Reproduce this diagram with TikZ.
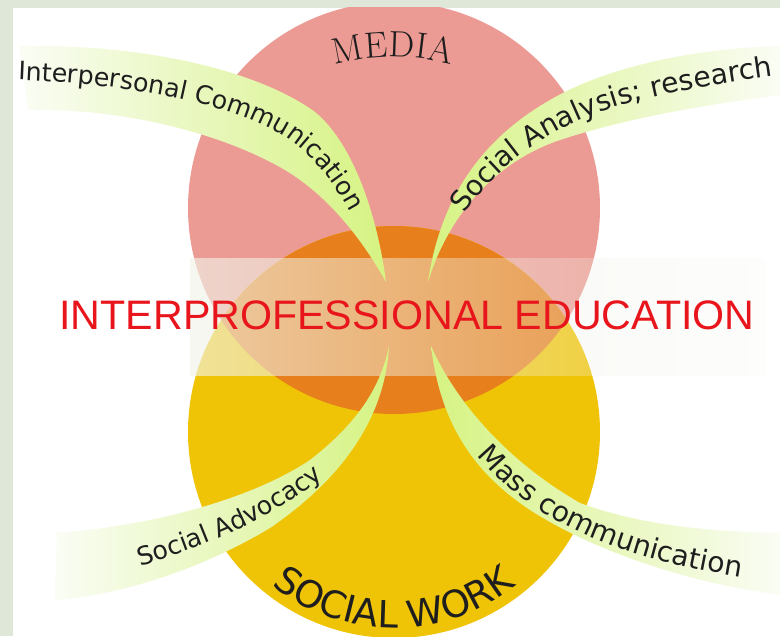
\documentclass[tikz,border=0pt]{standalone}
\usepackage{fontspec}
\newfontfamily\petalfont{DejaVu Sans}
\newfontfamily\titlefont{Liberation Sans}
\usetikzlibrary{calc,decorations.text,fadings}

\definecolor{mediapink}{RGB}{236,155,148}
\definecolor{workyellow}{RGB}{240,196,6}
\definecolor{overlaporange}{RGB}{231,127,28}
\definecolor{petallime}{RGB}{214,243,130}
\definecolor{petalmid}{RGB}{232,247,188}
\definecolor{petalpale}{RGB}{250,253,245}
\definecolor{bandgreen}{RGB}{240,243,232}
\definecolor{ipered}{RGB}{232,22,28}
\definecolor{leafgrey}{RGB}{222,231,216}
\definecolor{textdark}{RGB}{30,30,30}

\newcommand\leftpetalfont{\color{textdark}\petalfont\fontsize{18pt}{20pt}\selectfont}
\newcommand\rightpetalfont{\color{textdark}\petalfont\fontsize{20pt}{22pt}\selectfont}
\newcommand\mediafont{\color{textdark}\rmfamily\fontsize{26pt}{28pt}\selectfont}
\newcommand\workfont{\color{textdark}\petalfont\fontsize{26.5pt}{28pt}\selectfont}

\tikzfading[name=bandfade, left color=transparent!35, right color=transparent!88]

\begin{document}
\begin{tikzpicture}[x=0.025cm, y=0.025cm,
    petalL/.style={left color=petalpale, right color=petallime, middle color=petalmid},
    petalR/.style={left color=petallime, right color=petalpale, middle color=petalmid},
    alongtext/.style 2 args={decorate, decoration={text along path, text align=left, text={|#1|#2}}},
    arctext/.style 2 args={decorate, decoration={text along path, text align=center, text={|#1|#2}}}]
    \useasboundingbox (0,0) rectangle (780,636);

    \coordinate (Cmedia) at (394,428);
    \coordinate (Cwork) at (394,204);
    \coordinate (Amedia) at (393,354);
    \coordinate (TipNW) at (386,354);
    \coordinate (TipNE) at (428,354);
    \coordinate (TipSW) at (389,290);
    \coordinate (TipSE) at (431,290);

    \fill[leafgrey] (0,0) rectangle (780,636);
    \fill[white] (13,0) rectangle (780,628);

    \begin{scope}
    \clip (13,0) rectangle (780,628);
    \fill[mediapink] (Cmedia) circle[radius=206];
    \fill[workyellow] (Cwork) circle[radius=206];
    \begin{scope}
        \clip (Cmedia) circle[radius=206];
        \fill[overlaporange] (Cwork) circle[radius=206];
    \end{scope}
    \end{scope}

    \fill[bandgreen, path fading=bandfade] (190,260) rectangle (765,378);

    \shade[petalL] (20,590) .. controls (150,592) and (260,564) .. (315,524)
        .. controls (355,491) and (378,416) .. (TipNW)
        .. controls (368,386) and (335,436) .. (285,466)
        .. controls (220,504) and (120,528) .. (28,526) -- cycle;
    \shade[petalR] (TipNE) .. controls (440,436) and (480,496) .. (550,536)
        .. controls (610,571) and (700,588) .. (782,590) -- (782,541)
        .. controls (700,531) and (620,516) .. (560,496)
        .. controls (500,476) and (450,426) .. (TipNE) -- cycle;
    \shade[petalL] (57,103) .. controls (150,110) and (250,136) .. (310,176)
        .. controls (355,211) and (380,246) .. (TipSW)
        .. controls (385,216) and (340,156) .. (270,108)
        .. controls (200,66) and (120,41) .. (55,36) -- cycle;
    \shade[petalR] (TipSE) .. controls (455,236) and (505,176) .. (580,133)
        .. controls (640,111) and (710,104) .. (782,103) -- (782,41)
        .. controls (700,51) and (600,81) .. (530,126)
        .. controls (470,166) and (440,216) .. (TipSE) -- cycle;

    \path[alongtext={\leftpetalfont}{Interpersonal Communication}]
        (18,556) .. controls (120,552) and (230,536) .. (290,496)
        .. controls (325,471) and (350,430) .. (368,385);
    \path[alongtext={\rightpetalfont}{Social Analysis; research}]
        (465,422) .. controls (500,476) and (560,516) .. (640,536)
        .. controls (690,548) and (740,556) .. (800,564);
    \path[alongtext={\leftpetalfont}{Social Advocacy}]
        (140,70) .. controls (200,88) and (270,116) .. (320,156)
        .. controls (345,176) and (360,206) .. (375,236);
    \path[alongtext={\rightpetalfont}{Mass communication}]
        (477,181) .. controls (510,141) and (560,106) .. (630,84)
        .. controls (670,71) and (720,61) .. (800,50);

    \path[arctext={\mediafont}{MEDIA}]
        ($(Amedia)+(118:225)$) arc[start angle=118, end angle=62, radius=225];
    \path[arctext={\workfont}{SOCIAL WORK}]
        ($(Cwork)+(205:196)$) arc[start angle=205, end angle=335, radius=196];

    \node[anchor=base, inner sep=0pt, text=ipered, font=\titlefont\fontsize{29.3pt}{32pt}\selectfont] (ipe) at (407,306) {INTERPROFESSIONAL EDUCATION};
\end{tikzpicture}
\end{document}
